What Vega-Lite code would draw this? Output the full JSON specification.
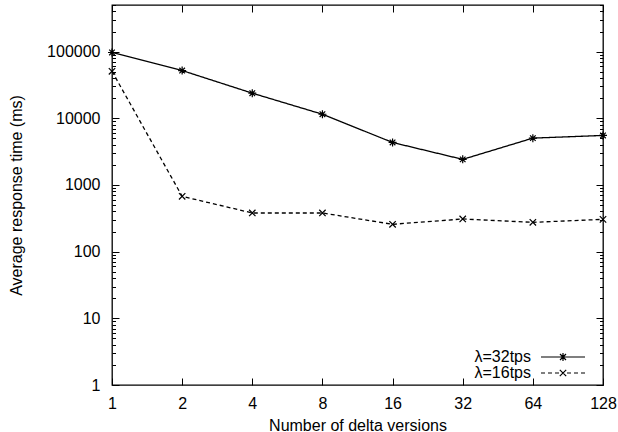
{
  "$schema": "https://vega.github.io/schema/vega-lite/v6.json",
  "width": 491,
  "height": 380,
  "autosize": "none",
  "padding": {"left": 112, "top": 5, "right": 15, "bottom": 47},
  "background": "white",
  "config": {
    "font": "Liberation Sans",
    "view": {"stroke": "black", "strokeWidth": 1.3},
    "axis": {
      "domain": false,
      "grid": false,
      "tickColor": "black",
      "tickWidth": 1,
      "labelColor": "black",
      "labelFont": "Liberation Sans",
      "labelFontSize": 16,
      "titleFont": "Liberation Sans",
      "titleFontSize": 16,
      "titleFontWeight": "normal",
      "titleColor": "black",
      "labelFlush": false,
      "labelOverlap": false
    }
  },
  "data": {
    "values": [
      {"series": "λ=32tps", "n": 1, "t": 97000},
      {"series": "λ=32tps", "n": 2, "t": 52000},
      {"series": "λ=32tps", "n": 4, "t": 23800},
      {"series": "λ=32tps", "n": 8, "t": 11500},
      {"series": "λ=32tps", "n": 16, "t": 4340},
      {"series": "λ=32tps", "n": 32, "t": 2420},
      {"series": "λ=32tps", "n": 64, "t": 5040},
      {"series": "λ=32tps", "n": 128, "t": 5530},
      {"series": "λ=16tps", "n": 1, "t": 50700},
      {"series": "λ=16tps", "n": 2, "t": 675},
      {"series": "λ=16tps", "n": 4, "t": 380},
      {"series": "λ=16tps", "n": 8, "t": 380},
      {"series": "λ=16tps", "n": 16, "t": 257},
      {"series": "λ=16tps", "n": 32, "t": 309},
      {"series": "λ=16tps", "n": 64, "t": 275},
      {"series": "λ=16tps", "n": 128, "t": 305}
    ]
  },
  "layer": [
    {
      "mark": {"type": "line", "color": "black", "strokeWidth": 1.3, "clip": false},
      "encoding": {
        "x": {
          "field": "n", "type": "quantitative",
          "scale": {"type": "log", "base": 2, "domain": [1, 128], "nice": false},
          "axis": {
            "orient": "bottom",
            "values": [1, 2, 4, 8, 16, 32, 64, 128],
            "format": "d",
            "tickSize": -7,
            "labelPadding": 17,
            "title": "Number of delta versions",
            "titlePadding": 6
          }
        },
        "y": {
          "field": "t", "type": "quantitative",
          "scale": {"type": "log", "domain": [1, 500000], "nice": false},
          "axis": {
            "orient": "left",
            "values": [1,2,3,4,5,6,7,8,9,10,20,30,40,50,60,70,80,90,100,200,300,400,500,600,700,800,900,1000,2000,3000,4000,5000,6000,7000,8000,9000,10000,20000,30000,40000,50000,60000,70000,80000,90000,100000,200000,300000,400000,500000],
            "labelExpr": "abs(log(datum.value)/LN10 - round(log(datum.value)/LN10)) < 1e-6 ? format(datum.value, 'd') : ''",
            "tickSize": {"condition": {"test": "abs(log(datum.value)/LN10 - round(log(datum.value)/LN10)) < 1e-6", "value": -7}, "value": -3.5},
            "labelPadding": 19,
            "title": "Average response time (ms)",
            "titlePadding": 22
          }
        },
        "detail": {"field": "series", "type": "nominal"},
        "strokeDash": {
          "condition": {"test": "datum.series === 'λ=16tps'", "value": [4, 3]},
          "value": [1, 0]
        }
      }
    },
    {
      "mark": {"type": "point", "filled": false, "color": "black", "strokeWidth": 1.2, "size": 64, "opacity": 1, "clip": false},
      "encoding": {
        "x": {
          "field": "n", "type": "quantitative",
          "scale": {"type": "log", "base": 2, "domain": [1, 128], "nice": false},
          "axis": {
            "orient": "top",
            "values": [1, 2, 4, 8, 16, 32, 64, 128],
            "labels": false,
            "tickSize": -7,
            "title": null
          }
        },
        "y": {
          "field": "t", "type": "quantitative",
          "scale": {"type": "log", "domain": [1, 500000], "nice": false},
          "axis": {
            "orient": "right",
            "values": [1,2,3,4,5,6,7,8,9,10,20,30,40,50,60,70,80,90,100,200,300,400,500,600,700,800,900,1000,2000,3000,4000,5000,6000,7000,8000,9000,10000,20000,30000,40000,50000,60000,70000,80000,90000,100000,200000,300000,400000,500000],
            "labels": false,
            "tickSize": {"condition": {"test": "abs(log(datum.value)/LN10 - round(log(datum.value)/LN10)) < 1e-6", "value": -7}, "value": -3.5},
            "title": null
          }
        },
        "shape": {
          "field": "series", "type": "nominal",
          "scale": {
            "domain": ["λ=32tps", "λ=16tps"],
            "range": [
              "M-1,0L1,0M0,-1L0,1M-0.7,-0.7L0.7,0.7M-0.7,0.7L0.7,-0.7",
              "M-0.8,-0.8L0.8,0.8M-0.8,0.8L0.8,-0.8"
            ]
          },
          "legend": null
        }
      }
    },
    {
      "mark": {"type": "point", "filled": false, "color": "black", "strokeWidth": 1.2, "size": 64, "opacity": 0, "clip": false},
      "encoding": {
        "x": {
          "field": "n", "type": "quantitative",
          "scale": {"type": "log", "base": 2, "domain": [1, 128], "nice": false},
          "axis": null
        },
        "y": {
          "field": "t", "type": "quantitative",
          "scale": {"type": "log", "domain": [1, 500000], "nice": false},
          "axis": null
        },
        "shape": {
          "field": "series", "type": "nominal",
          "scale": {
            "domain": ["λ=32tps", "λ=16tps"],
            "range": [
              "M-5.5,0L5.5,0M-1,0L1,0M0,-1L0,1M-0.75,-0.75L0.75,0.75M-0.75,0.75L0.75,-0.75",
              "M-5.5,0L-4.5,0M-3.75,0L-2.75,0M-2,0L-1,0M1,0L2,0M2.75,0L3.75,0M4.5,0L5.5,0M-0.8,-0.8L0.8,0.8M-0.8,0.8L0.8,-0.8"
            ]
          },
          "legend": {
            "orient": "none",
            "legendX": 443,
            "legendY": 344,
            "title": null,
            "padding": 0,
            "labelFont": "Liberation Sans",
            "labelFontSize": 16,
            "labelColor": "black",
            "labelLimit": 0,
            "labelAlign": "right",
            "labelOffset": -40,
            "symbolSize": 64,
            "symbolOpacity": 1,
            "symbolStrokeColor": "black",
            "symbolStrokeWidth": 1.2,
            "symbolFillColor": "transparent",
            "rowPadding": 0
          }
        }
      }
    }
  ],
  "resolve": {
    "scale": {"shape": "independent"},
    "axis": {"x": "independent", "y": "independent"}
  }
}
